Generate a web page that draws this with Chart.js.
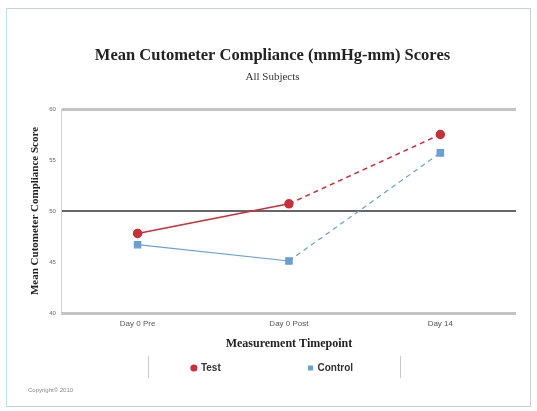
<!DOCTYPE html>
<html>
<head>
<meta charset="utf-8">
<script src="https://cdn.jsdelivr.net/npm/chart.js@4.4.1/dist/chart.umd.min.js"></script>
<style>
  html, body { margin: 0; padding: 0; background: #fff; }
  #wrap { width: 537px; height: 411px; position: relative; }
</style>
</head>
<body>
<div id="wrap"><canvas id="cutoChart" width="537" height="411"></canvas></div>
<script>
// datos
var timepoints = ['Day 0 Pre', 'Day 0 Post', 'Day 14'];
var test_scores = [47.8, 50.7, 57.5];
var control_scores = [46.7, 45.1, 55.7];
var y_ticks = [40, 45, 50, 55, 60];

var serif = '"Liberation Serif", "DejaVu Serif", serif';
var sans = '"Liberation Sans", Arial, sans-serif';

// segmentos: solido del primero al segundo, punteado despues
function dashAfterFirst(ctx) {
    return ctx.p0DataIndex >= 1 ? [5, 4] : undefined;
}

// marco, separadores de la leyenda y texto de copyright
var extras = {
    id: 'extras',
    beforeDraw: function(chart) {
        var c = chart.ctx;
        c.save();
        c.strokeStyle = '#c9cfd8';
        c.lineWidth = 1;
        c.strokeRect(6.5, 8.5, 524, 398);
        c.strokeStyle = '#bfe0f0';
        c.beginPath(); c.moveTo(6.5, 8.5); c.lineTo(6.5, 406.5); c.stroke();
        c.restore();
    },
    afterDraw: function(chart) {
        var c = chart.ctx;
        c.save();
        c.strokeStyle = '#c8c8c8';
        c.lineWidth = 1;
        c.beginPath();
        c.moveTo(148.5, 356); c.lineTo(148.5, 378);
        c.moveTo(400.5, 356); c.lineTo(400.5, 378);
        c.stroke();
        c.fillStyle = '#888';
        c.font = '6px ' + sans;
        c.textBaseline = 'middle';
        c.fillText('Copyright\u00a9 2010', 28, 390);
        c.restore();
    }
};

var ctx = document.getElementById('cutoChart').getContext('2d');
var cutoChart = new Chart(ctx, {
    type: 'line',
    data: {
        labels: timepoints,
        datasets: [{
            label: 'Test',
            data: test_scores,
            borderColor: '#c8303a',
            backgroundColor: '#c8303a',
            borderWidth: 1.5,
            pointStyle: 'circle',
            pointRadius: 4,
            segment: { borderDash: dashAfterFirst }
        }, {
            label: 'Control',
            data: control_scores,
            borderColor: '#6a9fd2',
            backgroundColor: '#6a9fd2',
            borderWidth: 1.2,
            pointStyle: 'rect',
            pointRadius: 4.5,
            segment: { borderDash: dashAfterFirst }
        }]
    },
    options: {
        responsive: false,
        animation: false,
        layout: { padding: { top: 46, left: 29, right: 21, bottom: 28 } },
        plugins: {
            title: {
                display: true,
                text: 'Mean Cutometer Compliance (mmHg-mm) Scores',
                color: '#222',
                font: { family: serif, size: 16.5, weight: 'bold' },
                padding: { top: 0, bottom: 5 }
            },
            subtitle: {
                display: true,
                text: 'All Subjects',
                color: '#333',
                font: { family: serif, size: 11 },
                padding: { top: 0, bottom: 25 }
            },
            legend: {
                position: 'bottom',
                labels: {
                    usePointStyle: true,
                    boxWidth: 4,
                    boxHeight: 4,
                    padding: 10,
                    color: '#333',
                    font: { family: sans, size: 10, weight: 'bold' },
                    generateLabels: function(chart) {
                        var items = Chart.defaults.plugins.legend.labels.generateLabels(chart);
                        items.forEach(function(it, i) {
                            it.lineDash = [];
                            if (i === 0) it.text = it.text + '                            ';
                        });
                        return items;
                    }
                }
            },
            tooltip: { enabled: false }
        },
        scales: {
            x: {
                offset: true,
                grid: { display: false, drawTicks: false },
                border: { display: false },
                ticks: { color: '#555', font: { family: sans, size: 8 }, padding: 6 },
                title: {
                    display: true,
                    text: 'Measurement Timepoint',
                    color: '#222',
                    font: { family: serif, size: 12, weight: 'bold' },
                    padding: { top: 2, bottom: 2 }
                }
            },
            y: {
                min: 40,
                max: 60,
                afterBuildTicks: function(axis) {
                    axis.ticks = y_ticks.map(function(v) { return { value: v }; });
                },
                grid: {
                    drawTicks: false,
                    color: function(c) {
                        if (c.tick.value === 50) return '#666';
                        if (c.tick.value === 40 || c.tick.value === 60) return '#c4c4c4';
                        return 'rgba(0,0,0,0)';
                    },
                    lineWidth: function(c) {
                        if (c.tick.value === 50) return 2;
                        return 3;
                    }
                },
                border: { display: true, color: '#d0d0d0', width: 1 },
                ticks: { color: '#666', font: { family: sans, size: 6 }, padding: 6 },
                title: {
                    display: true,
                    text: 'Mean Cutometer Compliance Score',
                    color: '#222',
                    font: { family: serif, size: 11, weight: 'bold' },
                    padding: { top: 0, bottom: 1 }
                }
            }
        }
    },
    plugins: [extras]
});
</script>
</body>
</html>
